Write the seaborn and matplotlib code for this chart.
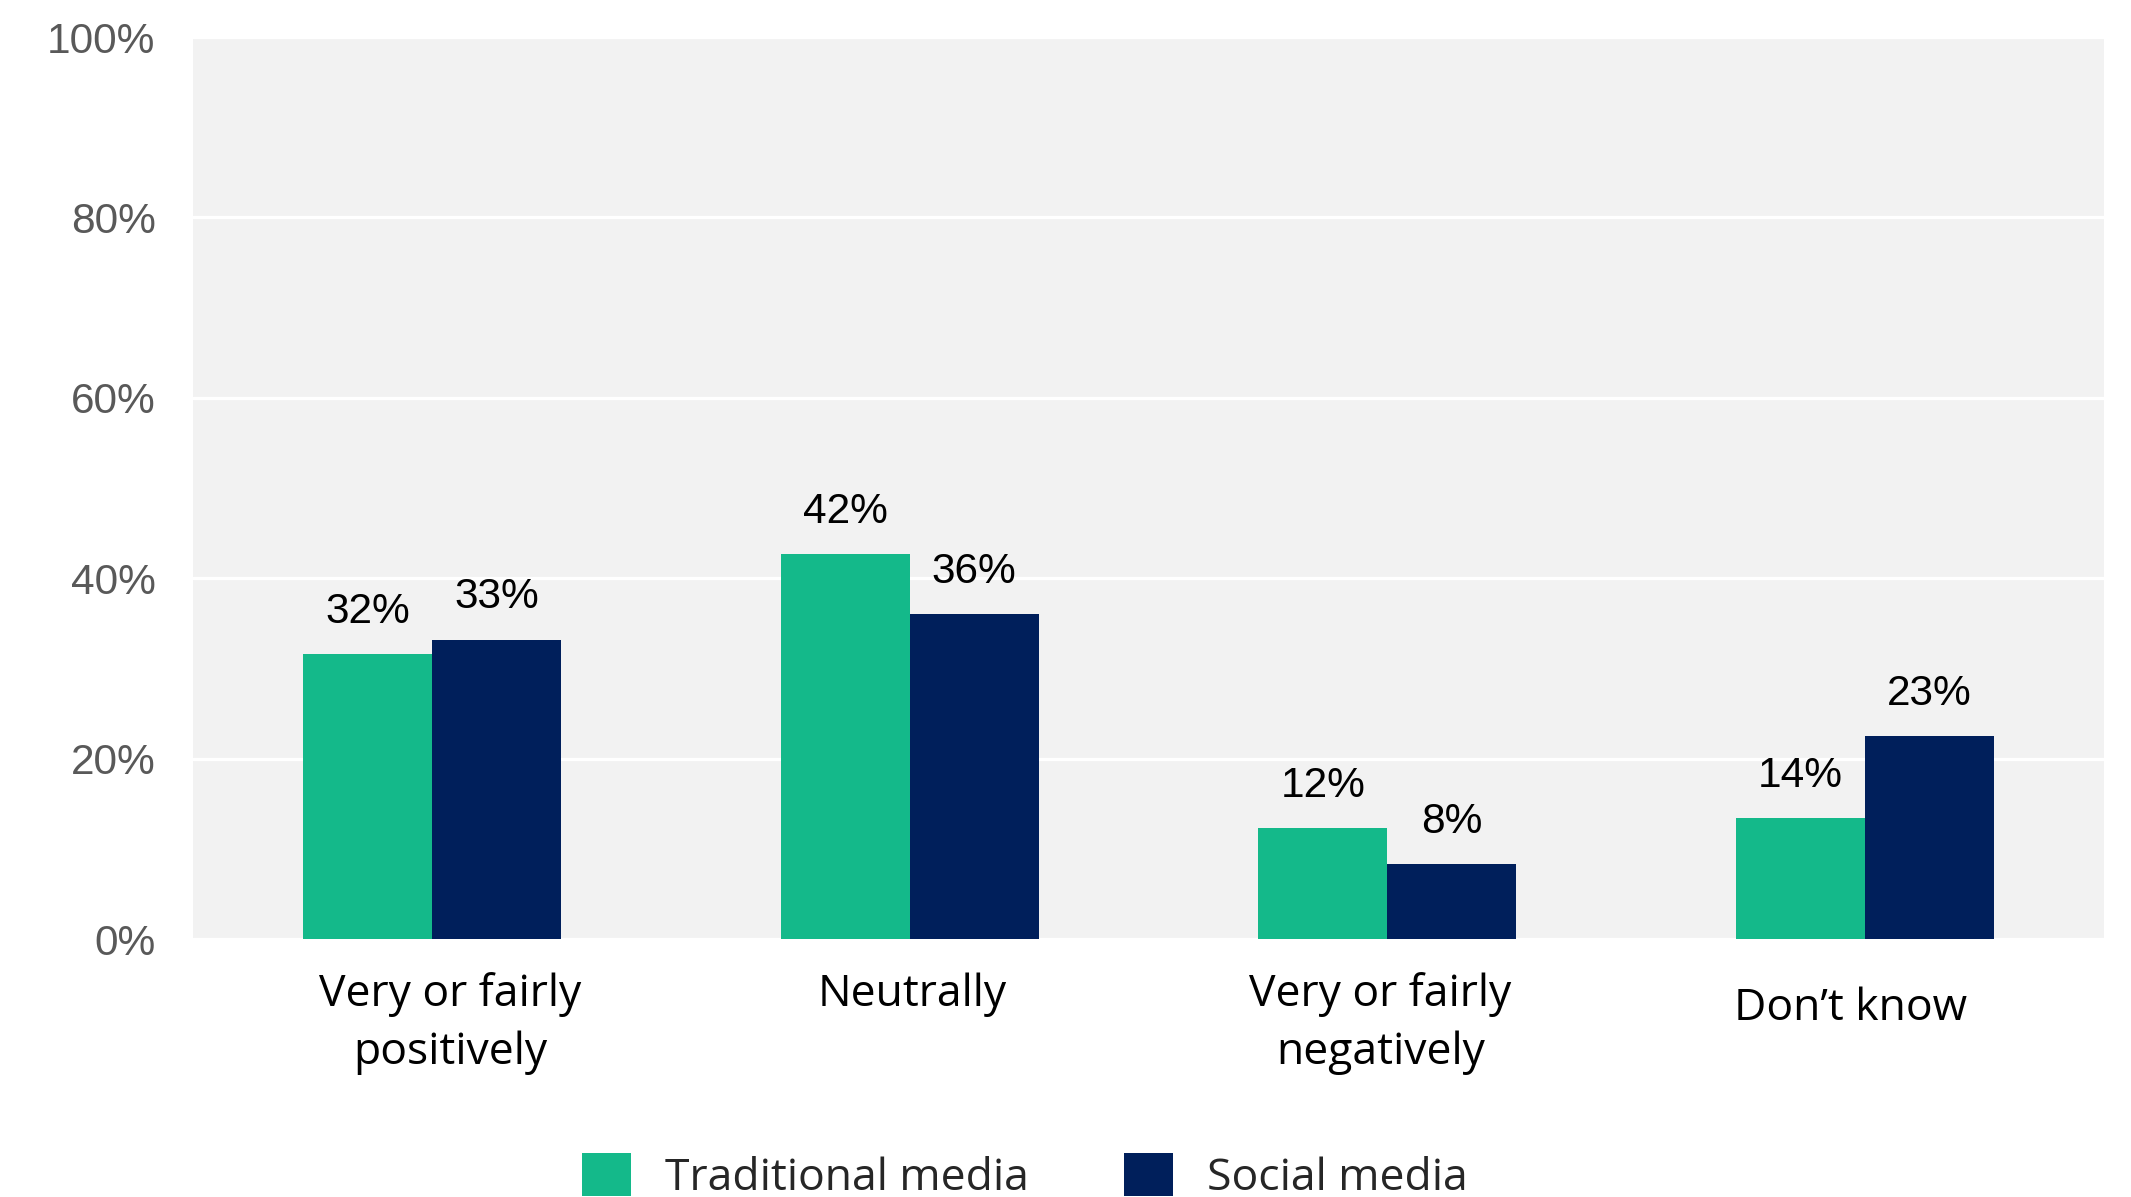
import matplotlib
matplotlib.use("Agg")
import matplotlib.pyplot as plt
import matplotlib.transforms as mtransforms
from matplotlib.patches import Patch
import seaborn as sns
import pandas as pd

# ---- data ----
categories = ["Very or fairly\npositively", "Neutrally", "Very or fairly\nnegatively", "Don\u2019t know"]
series_names = ["Traditional media", "Social media"]
traditional_values = [31.6, 42.7, 12.3, 13.4]
social_values = [33.2, 36.0, 8.3, 22.5]
traditional_labels = ["32%", "42%", "12%", "14%"]
social_labels = ["33%", "36%", "8%", "23%"]
y_ticks = [0, 20, 40, 60, 80, 100]
y_tick_labels = ["0%", "20%", "40%", "60%", "80%", "100%"]

colors = ["#14B98A", "#001F5B"]

df = pd.DataFrame({
    "category": categories * 2,
    "series": [series_names[0]] * len(categories) + [series_names[1]] * len(categories),
    "value": traditional_values + social_values,
})

sns.set_theme(style="white")
plt.rcParams["font.family"] = ["Liberation Sans", "DejaVu Sans"]

fig = plt.figure(figsize=(21.31, 11.97), dpi=100)
ax = fig.add_axes([0.0906, 0.2155, 0.8967, 0.7535])
ax.set_facecolor("#F2F2F2")

sns.barplot(data=df, x="category", y="value", hue="series", order=categories,
            hue_order=series_names, palette=colors, width=0.54, saturation=1,
            edgecolor="none", linewidth=0, ax=ax, legend=False, zorder=3)

ax.set_xlim(-0.5, len(categories) - 0.5)
ax.set_ylim(0, 100)
ax.set_yticks(y_ticks)
ax.set_yticklabels(y_tick_labels)
ax.set_xlabel("")
ax.set_ylabel("")

ax.grid(axis="y", color="white", linewidth=2.3, zorder=1)
ax.grid(axis="x", visible=False)
ax.set_axisbelow(True)
for s in ax.spines.values():
    s.set_visible(False)

ax.tick_params(axis="y", length=0, pad=27, labelsize=30.5, labelcolor="#595959")
ax.tick_params(axis="x", length=0, pad=24)

for lbl in ax.get_xticklabels():
    lbl.set_fontfamily(["Open Sans", "DejaVu Sans"])
    lbl.set_fontsize(32)
    lbl.set_color("black")
    lbl.set_linespacing(1.38)

# small per-label nudges (pixels) to follow the reference layout
nudges = [(18, 0), (3, 0), (-7, 0), (-15, -14)]
for lbl, (dx, dy) in zip(ax.get_xticklabels(), nudges):
    lbl.set_transform(lbl.get_transform() +
                      mtransforms.ScaledTranslation(dx / 100, dy / 100, fig.dpi_scale_trans))

label_sets = [traditional_labels, social_labels]
for container, labs in zip(ax.containers, label_sets):
    ax.bar_label(container, labels=labs, padding=16, fontsize=30.5, color="black",
                 fontfamily=["Liberation Sans", "DejaVu Sans"])

handles = [Patch(facecolor=c, edgecolor="none", label=n) for c, n in zip(colors, series_names)]
leg = fig.legend(handles=handles, loc="center", bbox_to_anchor=(0.481, 0.017), ncol=2,
                 frameon=False, fontsize=32, handlelength=1.1, handleheight=1.13,
                 handletextpad=0.77, columnspacing=2.14, borderpad=0, borderaxespad=0)
for t in leg.get_texts():
    t.set_fontfamily(["Open Sans", "DejaVu Sans"])

fig.savefig("out.png", dpi=100, facecolor="white")
